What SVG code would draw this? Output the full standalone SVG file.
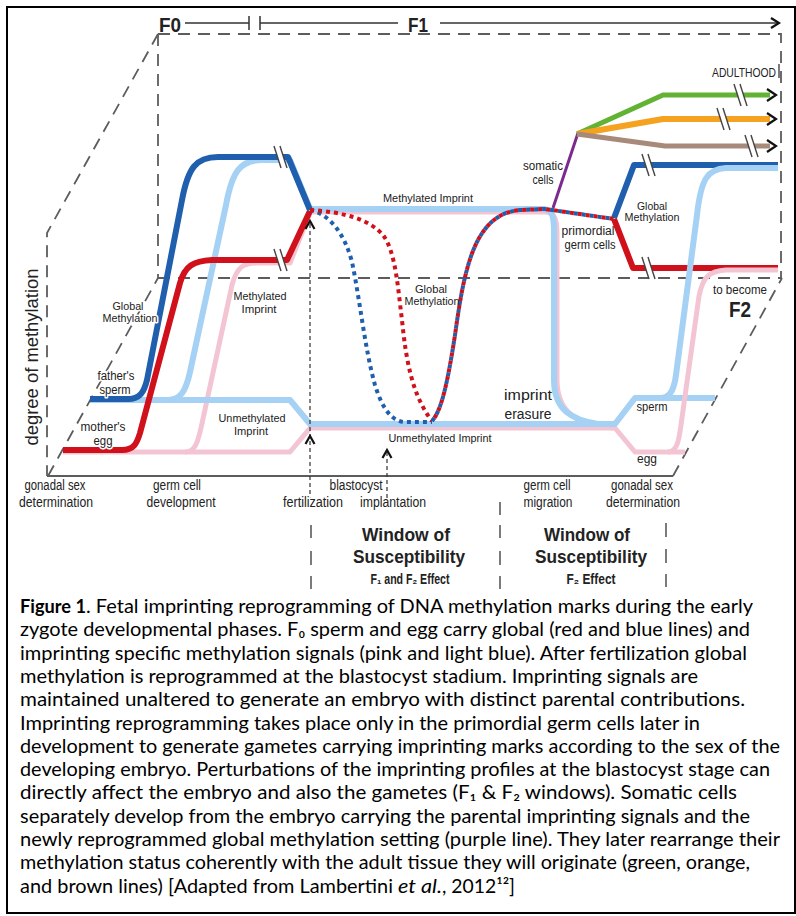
<svg xmlns="http://www.w3.org/2000/svg" xmlns:xlink="http://www.w3.org/1999/xlink" width="796" height="916" viewBox="0 0 796 916">
<style>
.dash{fill:none;stroke:#5c5c5c;stroke-width:1.8;stroke-dasharray:12 8}
.ax{fill:none;stroke:#5c5c5c;stroke-width:1.8}
.hd{fill:none;stroke:#333;stroke-width:1.5}
.ln{fill:none;stroke-linecap:butt;stroke-linejoin:round}
.pk{stroke:#f3c5d3;stroke-width:5}
.lb{stroke:#a5d1f4;stroke-width:6}
.rd{stroke:#d0111b;stroke-width:6}
.db{stroke:#1f5fad;stroke-width:6}
.dot{stroke-width:4;stroke-dasharray:4 4}
.chev{fill:none;stroke:#111;stroke-width:2.2}
.brk line{stroke:#444;stroke-width:1.4}
.va{fill:none;stroke:#333;stroke-width:1.2;stroke-dasharray:4 3}
.bar{stroke:#444;stroke-width:1.4}
.lbl{font-family:"Liberation Sans","DejaVu Sans",Arial,sans-serif;fill:#222;text-anchor:middle}
.halo{paint-order:stroke;stroke:#fff;stroke-width:3;stroke-linejoin:round}
.cap{font-family:Lato,"DejaVu Sans",sans-serif;font-size:19px;fill:#000}
</style>
<defs>
<g id="brk" class="brk"><polygon points="-4,-11 2,-11 9,11 3,11" fill="#fff"/><line x1="-4" y1="-11" x2="3" y2="11"/><line x1="2" y1="-11" x2="9" y2="11"/></g>
</defs>
<rect x="0" y="0" width="796" height="916" fill="#fff"/>
<rect x="7" y="7" width="788" height="906" fill="none" stroke="#000" stroke-width="2"/>

<g id="frame">
<path class="dash" d="M158,34 L781,34 L781,278"/>
<path class="dash" d="M158,278 L782,278"/>
<path class="dash" d="M158,34 L158,278"/>
<path class="dash" d="M158,34 L47,233 L47,476"/>
<path class="dash" d="M48,476 L158,278"/>
<path class="dash" d="M673,476 L782,278"/>
<path class="ax" d="M47,476 L673,476"/>
</g>

<g id="header">
<text class="lbl" x="170" y="32" font-size="20" font-weight="bold" textLength="22" lengthAdjust="spacingAndGlyphs">F0</text>
<path class="hd" d="M185,23 L249,23 M249,16 L249,30 M260,16 L260,30 M260,23 L398,23"/>
<text class="lbl" x="418" y="32" font-size="20" font-weight="bold" textLength="20" lengthAdjust="spacingAndGlyphs">F1</text>
<path class="hd" d="M440,23 L778,23"/>
<path class="chev" d="M771,18 L779,23 L771,28" stroke-width="1.8"/>
</g>

<g id="connectors">
<path class="ln pk" d="M63,452 L290,452 L310,428 L615,428 L635,452 L685,452"/>
<path class="ln pk" d="M185,452 C196,452 198,440 201,428 L232,285 C237,266 244,263 258,263 L290,263 L310,213"/>
<path class="ln pk" d="M310,212 L545,212"/>
<path class="ln pk" d="M545,212 C556,212 557,222 557,235 L557,380 C557,410 575,422 600,427 L615,428"/>
<path class="ln lb" d="M90,400 L290,400 L310,424 L615,424 L635,398 L715,398"/>
<path class="ln lb" d="M168,400 C181,400 186,390 190,372 L226,205 C232,172 240,160 262,160 L290,160 L310,209"/>
<path class="ln lb" d="M310,209 L545,209" stroke-width="4"/>
<path class="ln lb" d="M543,209 C553,209 554,218 554,232 L554,380 C554,410 572,420 598,424 L615,424" stroke-width="4"/>
<path class="ln rd" d="M63,450 L122,450 C134,450 137,443 140,433 L180,283 C185,266 193,261 212,260 L287,260 L310,211"/>
<path class="ln rd" d="M614,219 L633,268 L778,268"/>
<path class="ln db" d="M90,399 L128,399 C140,399 144,392 147,380 L182,200 C188,168 196,157 218,157 L288,157 L310,210"/>
<path class="ln db" d="M614,218 L634,165 L778,165"/>
<path class="ln pk" d="M668,452 C677,452 679,440 681,425 L699,296 C703,276 710,271 726,270 L778,270"/>
<path class="ln lb" d="M660,398 C670,398 674,390 676,375 L697,215 C701,178 708,169 726,168 L778,168"/>
<path class="ln dot" stroke="#1f5fad" d="M310,210 C330,214 345,235 352,262 C360,300 365,350 375,385 C382,408 392,422 405,422 L432,422"/>
<path class="ln dot" stroke="#d0111b" d="M310,210 C345,212 370,220 383,235 C396,252 398,290 402,320 C406,360 412,395 432,421"/>
<path class="ln dot" stroke="#1f5fad" d="M432,421 C442,410 448,380 455,335 C460,300 465,265 478,240 C488,222 500,212 520,210 L545,209 L614,219"/>
<path class="ln dot" stroke="#d0111b" stroke-dashoffset="4" d="M432,421 C442,410 448,380 455,335 C460,300 465,265 478,240 C488,222 500,212 520,210 L545,209 L614,219"/>
<path class="ln" stroke="#7d2a8f" stroke-width="3" d="M553,208 L578,133"/>
<path class="ln" stroke="#62b234" stroke-width="5" d="M577,134 L663,95 L770,95"/>
<path class="ln" stroke="#f4a21f" stroke-width="6" d="M577,134 L663,119 L770,119"/>
<path class="ln" stroke="#a88a7a" stroke-width="5" d="M577,134 L665,146 L770,146"/>
<path class="chev" d="M767,89 L776,95 L767,101"/>
<path class="chev" d="M767,113 L776,119 L767,125"/>
<path class="chev" d="M767,140 L776,146 L767,152"/>
<use xlink:href="#brk" x="278" y="157"/>
<use xlink:href="#brk" x="278" y="260"/>
<use xlink:href="#brk" x="646" y="165"/>
<use xlink:href="#brk" x="646" y="268"/>
<use xlink:href="#brk" x="738" y="95"/>
<use xlink:href="#brk" x="721" y="119"/>
<use xlink:href="#brk" x="749" y="146"/>
<path class="va" d="M310,224 L310,500"/>
<path class="chev" stroke-width="1.6" d="M305.5,229 L310,221 L314.5,229"/>
<path class="chev" stroke-width="1.6" d="M305.5,444 L310,436 L314.5,444"/>
<path class="va" d="M387,452 L387,500"/>
<path class="chev" stroke-width="1.6" d="M382.5,458 L387,450 L391.5,458"/>
<path class="bar" d="M311,525 L311,538 M311,551 L311,565 M311,576 L311,589 M500,502 L500,515 M500,525 L500,538 M500,551 L500,565 M500,576 L500,589 M666,523 L666,537 M666,549 L666,563 M666,574 L666,587"/>
</g>

<g id="axis-label">
<text class="lbl" transform="translate(38,357) rotate(-90)" font-size="18" textLength="177" lengthAdjust="spacingAndGlyphs">degree of methylation</text>
</g>

<g id="labels-left">
<text class="lbl halo" x="128" y="309.5" font-size="10.7" textLength="31" lengthAdjust="spacingAndGlyphs">Global</text>
<text class="lbl halo" x="130" y="321.5" font-size="10.7" textLength="55" lengthAdjust="spacingAndGlyphs">Methylation</text>
<text class="lbl halo" x="116" y="379.5" font-size="12.5" textLength="37" lengthAdjust="spacingAndGlyphs">father's</text>
<text class="lbl halo" x="115" y="393.5" font-size="12.5" textLength="31" lengthAdjust="spacingAndGlyphs">sperm</text>
<text class="lbl halo" x="103" y="431" font-size="12.5" textLength="45" lengthAdjust="spacingAndGlyphs">mother's</text>
<text class="lbl halo" x="103" y="445" font-size="12.5" textLength="19" lengthAdjust="spacingAndGlyphs">egg</text>
<text class="lbl" x="260" y="300" font-size="11" textLength="53" lengthAdjust="spacingAndGlyphs">Methylated</text>
<text class="lbl" x="259" y="312.5" font-size="11" textLength="35" lengthAdjust="spacingAndGlyphs">Imprint</text>
<text class="lbl" x="252" y="422" font-size="11" textLength="67" lengthAdjust="spacingAndGlyphs">Unmethylated</text>
<text class="lbl" x="251" y="434.5" font-size="11" textLength="34" lengthAdjust="spacingAndGlyphs">Imprint</text>
</g>

<g id="labels-middle">
<text class="lbl" x="428" y="202" font-size="11" textLength="90" lengthAdjust="spacingAndGlyphs">Methylated Imprint</text>
<text class="lbl" x="431" y="293" font-size="10.3" textLength="32" lengthAdjust="spacingAndGlyphs">Global</text>
<text class="lbl" x="432" y="304.5" font-size="10.3" textLength="55" lengthAdjust="spacingAndGlyphs">Methylation</text>
<text class="lbl" x="440" y="442" font-size="11" textLength="103" lengthAdjust="spacingAndGlyphs">Unmethylated Imprint</text>
<text class="lbl" x="528" y="400" font-size="14" textLength="48" lengthAdjust="spacingAndGlyphs">imprint</text>
<text class="lbl" x="528" y="419" font-size="14" textLength="47" lengthAdjust="spacingAndGlyphs">erasure</text>
</g>

<g id="labels-right">
<text class="lbl" x="744" y="77" font-size="12.5" textLength="64" lengthAdjust="spacingAndGlyphs">ADULTHOOD</text>
<path class="bar" d="M779,64 L779,78"/>
<text class="lbl" x="543" y="170" font-size="12.5" textLength="40" lengthAdjust="spacingAndGlyphs">somatic</text>
<text class="lbl" x="543" y="184" font-size="12.5" textLength="21" lengthAdjust="spacingAndGlyphs">cells</text>
<text class="lbl" x="652" y="209.5" font-size="10.3" textLength="30" lengthAdjust="spacingAndGlyphs">Global</text>
<text class="lbl" x="652" y="221" font-size="10.3" textLength="55" lengthAdjust="spacingAndGlyphs">Methylation</text>
<text class="lbl" x="588" y="235" font-size="12" textLength="53" lengthAdjust="spacingAndGlyphs">primordial</text>
<text class="lbl" x="590" y="248.5" font-size="12" textLength="51" lengthAdjust="spacingAndGlyphs">germ cells</text>
<text class="lbl halo" x="740" y="294" font-size="13.5" textLength="54" lengthAdjust="spacingAndGlyphs">to become</text>
<text class="lbl" x="740" y="317" font-size="22" font-weight="bold" textLength="22" lengthAdjust="spacingAndGlyphs">F2</text>
<text class="lbl" x="652" y="411" font-size="13.5" textLength="31" lengthAdjust="spacingAndGlyphs">sperm</text>
<text class="lbl" x="647" y="463" font-size="13.5" textLength="20" lengthAdjust="spacingAndGlyphs">egg</text>
</g>

<g id="labels-bottom">
<text class="lbl" x="55" y="490" font-size="14" textLength="61" lengthAdjust="spacingAndGlyphs">gonadal sex</text>
<text class="lbl" x="56" y="507" font-size="14" textLength="74" lengthAdjust="spacingAndGlyphs">determination</text>
<text class="lbl" x="177" y="490" font-size="14" textLength="48" lengthAdjust="spacingAndGlyphs">germ cell</text>
<text class="lbl" x="181" y="507" font-size="14" textLength="69" lengthAdjust="spacingAndGlyphs">development</text>
<text class="lbl halo" x="313" y="507" font-size="14" textLength="60" lengthAdjust="spacingAndGlyphs">fertilization</text>
<text class="lbl" x="356" y="490" font-size="14" textLength="53" lengthAdjust="spacingAndGlyphs">blastocyst</text>
<text class="lbl" x="393" y="507" font-size="14" textLength="66" lengthAdjust="spacingAndGlyphs">implantation</text>
<text class="lbl" x="547" y="490" font-size="14" textLength="47" lengthAdjust="spacingAndGlyphs">germ cell</text>
<text class="lbl" x="548" y="507" font-size="14" textLength="49" lengthAdjust="spacingAndGlyphs">migration</text>
<text class="lbl" x="642" y="490" font-size="14" textLength="62" lengthAdjust="spacingAndGlyphs">gonadal sex</text>
<text class="lbl" x="643" y="507" font-size="14" textLength="74" lengthAdjust="spacingAndGlyphs">determination</text>
<text class="lbl" x="406" y="541" font-size="19" font-weight="bold" textLength="88" lengthAdjust="spacingAndGlyphs">Window of</text>
<text class="lbl" x="409" y="563" font-size="19" font-weight="bold" textLength="112" lengthAdjust="spacingAndGlyphs">Susceptibility</text>
<text class="lbl" x="410" y="584" font-size="14" font-weight="bold" textLength="79" lengthAdjust="spacingAndGlyphs">F₁ and F₂ Effect</text>
<text class="lbl" x="587" y="541" font-size="19" font-weight="bold" textLength="86" lengthAdjust="spacingAndGlyphs">Window of</text>
<text class="lbl" x="591" y="563" font-size="19" font-weight="bold" textLength="112" lengthAdjust="spacingAndGlyphs">Susceptibility</text>
<text class="lbl" x="591" y="584" font-size="14" font-weight="bold" textLength="49" lengthAdjust="spacingAndGlyphs">F₂ Effect</text>
</g>

<g id="caption">
<text class="cap" x="20" y="613" font-weight="bold" textLength="66" lengthAdjust="spacingAndGlyphs">Figure 1</text>
<text class="cap" x="86" y="613" textLength="667" lengthAdjust="spacingAndGlyphs">. Fetal imprinting reprogramming of DNA methylation marks during the early</text>
<text class="cap" x="20" y="636.3" textLength="730" lengthAdjust="spacingAndGlyphs">zygote developmental phases. F₀ sperm and egg carry global (red and blue lines) and</text>
<text class="cap" x="20" y="659.6" textLength="727" lengthAdjust="spacingAndGlyphs">imprinting specific methylation signals (pink and light blue). After fertilization global</text>
<text class="cap" x="20" y="682.9" textLength="678" lengthAdjust="spacingAndGlyphs">methylation is reprogrammed at the blastocyst stadium. Imprinting signals are</text>
<text class="cap" x="20" y="706.2" textLength="725" lengthAdjust="spacingAndGlyphs">maintained unaltered to generate an embryo with distinct parental contributions.</text>
<text class="cap" x="20" y="729.5" textLength="680" lengthAdjust="spacingAndGlyphs">Imprinting reprogramming takes place only in the primordial germ cells later in</text>
<text class="cap" x="20" y="752.8" textLength="760" lengthAdjust="spacingAndGlyphs">development to generate gametes carrying imprinting marks according to the sex of the</text>
<text class="cap" x="20" y="776.1" textLength="750" lengthAdjust="spacingAndGlyphs">developing embryo. Perturbations of the imprinting profiles at the blastocyst stage can</text>
<text class="cap" x="20" y="799.4" textLength="717" lengthAdjust="spacingAndGlyphs">directly affect the embryo and also the gametes (F₁ &amp; F₂ windows). Somatic cells</text>
<text class="cap" x="20" y="822.7" textLength="730" lengthAdjust="spacingAndGlyphs">separately develop from the embryo carrying the parental imprinting signals and the</text>
<text class="cap" x="20" y="846" textLength="760" lengthAdjust="spacingAndGlyphs">newly reprogrammed global methylation setting (purple line). They later rearrange their</text>
<text class="cap" x="20" y="869.3" textLength="730" lengthAdjust="spacingAndGlyphs">methylation status coherently with the adult tissue they will originate (green, orange,</text>
<text class="cap" x="20" y="892.6" textLength="373" lengthAdjust="spacingAndGlyphs">and brown lines) [Adapted from Lambertini</text>
<text class="cap" x="398" y="892.6" font-style="italic" textLength="44" lengthAdjust="spacingAndGlyphs">et al.</text>
<text class="cap" x="442" y="892.6" textLength="73" lengthAdjust="spacingAndGlyphs">, 2012¹²]</text>
</g>
</svg>
